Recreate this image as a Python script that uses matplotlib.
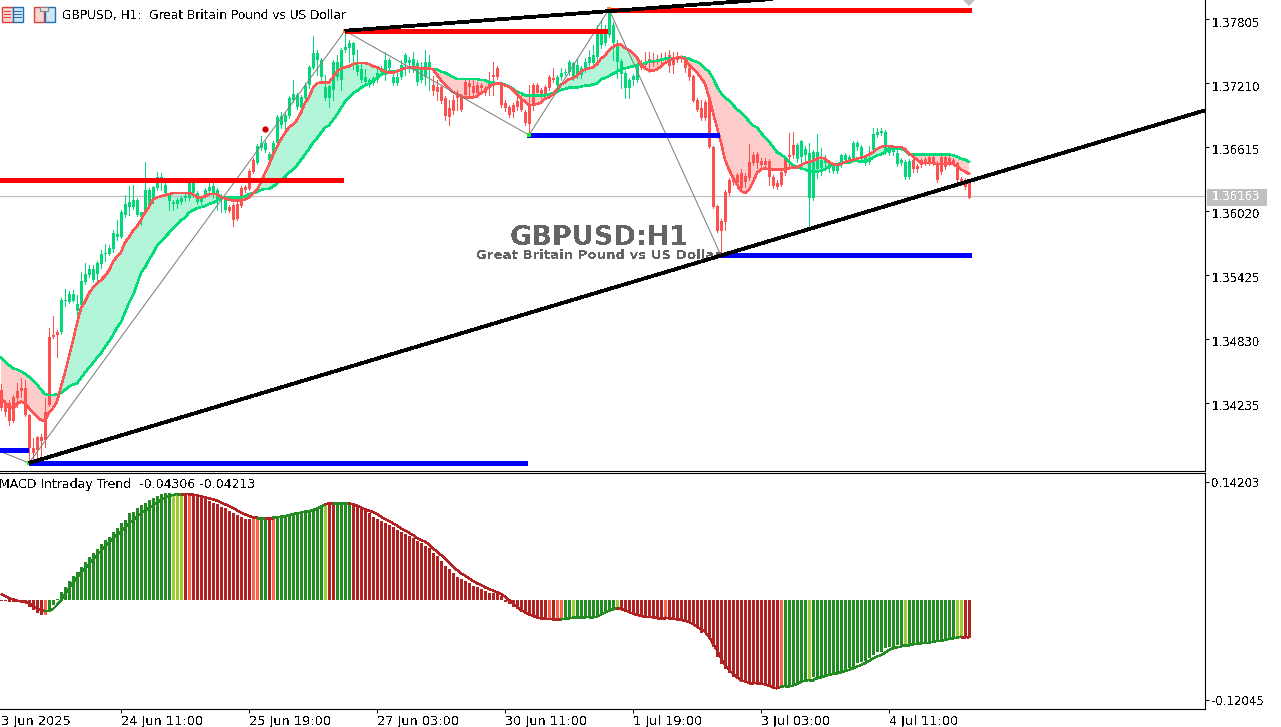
import matplotlib
matplotlib.use('Agg')
import matplotlib.pyplot as plt
import numpy as np
from matplotlib.collections import LineCollection
from matplotlib.patches import Rectangle
from matplotlib.transforms import Affine2D, ScaledTranslation

plt.rcParams['font.family'] = ['DejaVu Sans']
plt.rcParams['text.antialiased'] = False

# all candle and MA values are pips above 1.33000
BASE = 1.33

body_top = [
    136,124,124,129,135,138,138,113,82,92,
    92,115,185,187,190,220,220,225,225,216,
    237,244,248,248,254,262,263,268,282,281,
    301,309,311,313,313,301,322,322,325,334,
    334,327,317,311,313,314,316,328,328,319,
    314,322,325,326,322,316,314,306,308,309,
    324,325,340,350,363,366,366,355,366,390,
    391,392,407,411,410,408,420,436,449,449,
    443,418,419,441,441,452,455,459,459,438,
    434,427,424,426,431,435,443,443,427,427,
    438,447,443,444,440,435,441,441,420,418,
    418,407,398,406,409,410,422,421,419,420,
    420,417,422,429,435,420,403,399,401,405,
    406,394,402,420,420,415,418,427,426,427,
    431,432,441,440,438,435,441,446,447,468,
    468,468,487,475,457,442,431,424,428,438,
    440,440,444,443,444,445,446,447,445,446,
    446,444,435,428,406,398,404,408,362,307,
    293,320,331,334,336,338,335,348,354,355,
    349,349,349,334,328,339,351,354,364,364,
    367,360,356,357,357,350,352,347,345,344,
    354,354,353,366,366,362,353,352,374,376,
    377,376,362,362,356,350,348,349,350,344,
    350,351,353,353,347,353,353,352,350,347,
    332,331,328]
body_bottom = [
    119,115,107,107,128,135,113,82,77,80,
    88,89,122,185,187,190,219,218,219,209,
    215,236,243,238,244,253,262,262,267,278,
    278,299,306,306,299,297,301,308,314,324,
    329,319,312,309,309,311,314,314,319,311,
    311,315,321,317,313,313,303,302,294,295,
    307,322,323,339,347,361,359,350,355,366,
    382,385,391,406,399,398,407,420,435,443,
    427,407,407,415,427,424,452,454,447,432,
    424,422,420,421,424,432,429,435,421,421,
    427,440,440,436,422,424,427,434,414,413,
    405,391,390,395,407,396,410,418,412,412,
    417,412,417,427,427,401,398,392,394,399,
    396,384,383,402,412,410,410,417,424,420,
    427,431,432,427,429,429,435,440,440,446,
    457,459,466,459,441,430,417,417,424,424,
    435,438,440,440,441,442,443,437,438,443,
    444,435,427,405,396,389,389,362,306,284,
    284,292,319,329,328,324,329,333,347,347,
    345,345,334,326,325,327,338,353,354,351,
    353,354,314,314,341,342,347,342,340,340,
    345,350,350,352,362,351,347,348,359,373,
    375,357,356,357,346,347,334,334,341,341,
    345,347,347,347,331,339,343,347,347,331,
    328,325,314]
high = [
    141,127,127,131,142,147,145,114,91,93,
    95,128,194,205,192,221,230,228,229,224,
    246,254,252,252,256,266,272,271,285,294,
    303,317,326,327,314,301,348,324,326,339,
    338,328,319,313,314,316,318,329,328,321,
    316,324,328,328,324,318,316,308,310,311,
    326,327,341,352,365,372,367,357,367,392,
    394,394,409,424,412,410,421,438,465,452,
    445,429,420,443,447,454,469,461,460,452,
    441,434,426,428,434,437,450,445,432,434,
    443,449,446,450,443,441,452,447,428,424,
    420,409,406,410,415,411,424,424,424,422,
    421,419,432,441,437,421,406,401,403,415,
    410,396,420,421,421,417,420,429,435,429,
    435,434,443,441,445,437,445,452,457,475,
    480,475,490,478,461,444,433,426,430,440,
    443,450,450,449,447,449,450,452,450,450,
    447,446,436,429,407,406,406,410,363,308,
    295,322,333,336,338,341,338,365,357,357,
    352,352,351,336,331,341,353,375,376,366,
    368,363,366,359,374,361,354,349,347,347,
    355,356,354,367,367,364,354,363,380,380,
    380,378,364,364,359,352,350,351,352,346,
    352,353,354,354,349,354,354,354,352,348,
    334,333,328]
low = [
    117,112,103,106,120,129,112,69,69,70,
    71,83,121,184,167,188,214,217,218,204,
    214,234,241,236,234,249,256,261,264,275,
    277,297,299,304,298,289,300,305,310,322,
    322,317,303,303,305,309,312,313,315,309,
    309,314,318,314,303,301,301,301,288,294,
    306,320,322,338,346,359,357,346,353,365,
    380,378,389,404,397,396,406,417,434,429,
    424,406,399,406,424,415,450,441,434,429,
    422,420,418,420,422,429,424,432,420,420,
    425,429,432,432,420,422,420,415,410,406,
    403,387,382,393,396,395,408,410,410,408,
    413,410,410,410,425,399,395,390,390,396,
    395,382,375,396,409,407,408,415,422,417,
    424,429,429,424,426,426,432,437,438,443,
    454,457,464,443,426,417,407,407,420,422,
    434,435,432,437,439,438,441,432,431,441,
    441,432,424,404,395,387,387,361,305,283,
    261,285,317,327,324,322,325,331,345,342,
    343,341,327,324,323,326,336,341,352,348,
    345,350,287,313,333,336,344,339,338,338,
    343,347,348,350,359,349,345,346,357,371,
    373,355,354,354,344,345,332,332,339,339,
    343,345,345,345,329,337,341,345,345,329,
    327,323,314]
candle_runs = [('r',15),('g',42),('r',7),('g',44),('r',31),('g',21),('r',39),('g',29),('r',15)]

fast_ma = [
    128,124,120,119,123,125,124,119,115,111,
    108,107,115,119,125,139,152,167,182,198,
    212,218,226,231,235,238,242,247,255,260,
    264,273,278,284,288,294,301,306,313,315,
    316,317,318,319,319,319,319,319,318,315,
    315,316,318,318,318,315,314,313,312,312,
    312,313,315,319,322,329,338,345,355,362,
    369,375,380,383,387,394,403,408,417,421,
    422,422,422,427,432,435,436,437,439,440,
    440,440,439,437,436,434,432,431,431,432,
    434,435,436,436,436,435,435,435,434,429,
    424,420,416,413,411,409,408,408,408,409,
    412,414,418,420,421,421,419,418,415,411,
    407,404,401,401,402,403,407,408,411,415,
    420,422,425,426,428,432,434,435,436,439,
    444,447,452,455,457,457,454,452,449,445,
    438,435,433,433,434,437,440,442,444,445,
    445,444,438,435,431,426,421,408,394,380,
    366,350,341,333,327,321,319,322,329,338,
    341,342,341,341,341,341,341,342,343,343,
    345,347,348,349,351,352,351,348,346,345,
    346,348,349,350,351,352,353,355,357,360,
    362,363,363,362,362,362,360,356,353,350,
    347,347,347,347,346,346,346,347,346,344,
    341,339,337]
slow_ma = [
    166,162,159,156,155,153,151,148,145,141,
    136,132,131,131,132,133,136,139,141,142,
    147,152,157,161,166,170,176,181,187,194,
    199,208,217,224,234,245,250,257,263,270,
    274,278,282,286,290,294,296,301,303,305,
    306,307,309,310,312,314,315,315,315,315,
    315,316,318,319,320,322,323,323,325,328,
    331,334,338,341,345,350,355,360,366,370,
    375,380,382,387,392,398,404,408,412,414,
    417,419,421,423,426,429,431,432,432,432,
    434,435,436,435,435,435,435,435,434,434,
    432,431,429,427,425,425,425,425,425,425,
    424,424,422,422,421,421,420,418,416,413,
    412,410,410,410,410,410,410,411,412,413,
    415,416,417,417,417,418,419,419,420,421,
    425,426,428,430,432,434,435,436,437,438,
    438,440,441,442,442,443,444,444,444,445,
    445,445,444,442,441,439,435,432,426,418,
    412,408,405,401,397,394,390,386,382,380,
    375,371,367,362,357,355,352,348,345,343,
    342,341,339,339,339,340,341,344,346,346,
    347,347,347,349,349,348,349,350,352,354,
    355,357,360,361,360,360,359,355,355,355,
    355,355,355,355,355,355,355,355,354,353,
    351,350,348]

# MACD pane, units of 0.0001
macd_hist = [
    -8,-12,-28,-28,-20,-16,-20,-80,-120,-152,
    -180,-180,-120,-60,12,100,160,228,288,340,
    400,460,520,560,612,672,720,760,820,860,
    920,960,1040,1060,1100,1140,1168,1200,1220,1248,
    1272,1280,1280,1272,1272,1268,1272,1264,1248,1240,
    1224,1208,1192,1168,1148,1120,1100,1072,1048,1020,
    996,976,968,968,968,976,976,968,976,984,
    992,1008,1016,1032,1040,1052,1060,1072,1080,1100,
    1128,1160,1160,1152,1152,1152,1152,1152,1140,1120,
    1100,1072,1040,1000,972,952,920,900,872,840,
    820,792,772,740,712,680,648,620,568,528,
    472,408,368,328,280,256,228,200,172,152,
    128,104,88,80,72,48,-24,-52,-80,-108,
    -140,-168,-192,-208,-220,-228,-232,-240,-240,-240,
    -240,-220,-212,-200,-208,-208,-208,-200,-192,-180,
    -160,-140,-120,-112,-100,-112,-140,-160,-172,-188,
    -200,-208,-212,-220,-220,-220,-220,-228,-228,-232,
    -244,-252,-280,-300,-340,-392,-400,-460,-568,-688,
    -768,-832,-880,-920,-952,-980,-1000,-1008,-1012,-1012,
    -1012,-1020,-1032,-1040,-1060,-1040,-1028,-1028,-1020,-1000,
    -980,-960,-952,-928,-920,-912,-900,-888,-880,-868,
    -852,-840,-820,-800,-752,-740,-728,-700,-660,-620,
    -620,-580,-560,-560,-540,-540,-528,-528,-528,-520,
    -520,-512,-500,-500,-492,-488,-480,-468,-460,-440,
    -428,-460,-460]
macd_signal = [
    72,48,20,8,-8,-16,-24,-40,-72,-96,
    -120,-136,-132,-108,-60,-8,72,140,208,272,
    328,380,432,488,540,588,640,688,736,780,
    824,872,912,960,1000,1040,1072,1108,1136,1168,
    1200,1224,1248,1260,1272,1272,1272,1268,1264,1256,
    1244,1232,1220,1208,1192,1172,1148,1128,1104,1076,
    1048,1028,1008,992,988,988,988,988,988,992,
    1000,1008,1020,1032,1040,1048,1060,1068,1080,1096,
    1120,1148,1160,1160,1160,1160,1160,1160,1148,1132,
    1108,1088,1072,1056,1032,1000,972,948,920,892,
    860,832,808,780,744,720,700,668,620,580,
    540,500,448,400,360,320,292,260,228,200,
    180,152,132,112,92,72,40,0,-40,-80,
    -120,-148,-172,-192,-208,-220,-224,-228,-232,-232,
    -232,-228,-220,-212,-208,-208,-208,-204,-204,-200,
    -172,-148,-128,-112,-100,-108,-124,-144,-164,-180,
    -192,-200,-204,-208,-212,-212,-212,-220,-224,-232,
    -240,-248,-264,-288,-320,-352,-380,-440,-520,-600,
    -700,-780,-840,-888,-928,-960,-980,-992,-992,-1000,
    -1000,-1012,-1028,-1048,-1060,-1040,-1032,-1032,-1028,-1008,
    -980,-968,-960,-960,-940,-928,-912,-900,-888,-880,
    -868,-852,-840,-820,-800,-780,-760,-732,-700,-680,
    -660,-632,-600,-580,-568,-560,-540,-540,-532,-528,
    -520,-516,-512,-500,-492,-488,-480,-468,-460,-452,
    -440,-440,-452]
hist_runs = [('r',5),('o',1),('r',5),('o',1),('g',31),('y',3),('r',1),('o',1),('r',15),('o',2),
             ('g',2),('r',1),('o',1),('g',12),('y',1),('r',2),('g',4),('r',49),('o',1),('r',1),
             ('o',2),('g',2),('y',1),('g',10),('y',1),('r',11),('o',1),('r',28),('o',1),('g',6),
             ('y',1),('g',23),('y',1),('g',12),('y',2),('r',2)]

# (first bar, last bar, pips, colour)
levels = [(-1, 85.5, 331, '#ff0000'), (86, 151.5, 470, '#ff0000'), (151.5, 242.5, 489, '#ff0000'),
          (-1, 6.75, 80, '#0000ff'), (7, 131.5, 68, '#0000ff'), (131.5, 179.5, 373, '#0000ff'),
          (179.75, 242.5, 261, '#0000ff')]
zigzag_bars = [-1, 7, 86, 132, 152, 180]
zigzag_pips = [80, 68, 470, 373, 490, 261]
price_ticks = [1.37805, 1.37210, 1.36615, 1.36020, 1.35425, 1.34830, 1.34235]
macd_ticks = [0.14203, -0.12045]
date_bars = [-2, 30, 62, 94, 126, 158, 190, 222]
date_labels = ['23 Jun 2025', '24 Jun 11:00', '25 Jun 19:00', '27 Jun 03:00',
               '30 Jun 11:00', '1 Jul 19:00', '3 Jul 03:00', '4 Jul 11:00']
bid = 1.36163

W, H = 1281, 727
CANDLE = {'g': '#00d977', 'r': '#ff5050'}
HIST = {'g': '#228b22', 'y': '#9acd32', 'r': '#b22222', 'o': '#ff6347'}


def expand(runs):
    return [c for c, n in runs for _ in range(n)]


def to_price(pips):
    return BASE + np.asarray(pips, dtype=float) / 1e4


bars = np.arange(len(body_top))
xlim = (-0.25, 300.875)

fig = plt.figure(figsize=(W / 100, H / 100), dpi=100, facecolor='white')
ax = fig.add_axes([0, (H - 470.5) / H, 1204.5 / W, 470.5 / H])
ax2 = fig.add_axes([0, (H - 708.5) / H, 1204.5 / W, 236 / H])

# price pane
ax.set_xlim(xlim)
ax.set_ylim(1.33610, 1.37986)
fast, slow = to_price(fast_ma), to_price(slow_ma)
ax.fill_between(bars, fast, slow, where=fast >= slow, interpolate=True, color='#b2f5d8', lw=0, zorder=1)
ax.fill_between(bars, fast, slow, where=fast <= slow, interpolate=True, color='#ffcccc', lw=0, zorder=1)
ax.axhline(bid, color='#c0c0c0', lw=0.9, zorder=1.5)

colors = [CANDLE[c] for c in expand(candle_runs)]
ax.vlines(bars, to_price(low), to_price(high), colors=colors, lw=0.72, antialiased=False, zorder=2)
ax.bar(bars, to_price(body_top) - to_price(body_bottom), bottom=to_price(body_bottom), width=0.75,
       color=colors, antialiased=False, zorder=2.1)

ax.plot(bars, slow, color='#00dc78', lw=1.1, antialiased=False, zorder=3)
ax.plot(bars, fast, color='#ff5555', lw=1.1, antialiased=False, zorder=3.1)

ax.plot(zigzag_bars, to_price(zigzag_pips), color='#808080', lw=0.75, zorder=3.5)
for b0, b1, pips, col in levels:
    ax.plot([b0, b1], to_price([pips, pips]), color=col, lw=3.6, solid_capstyle='butt',
            antialiased=False, zorder=4)

low_marks, high_marks = [1, 3, 5], [2, 4]
ax.plot([zigzag_bars[i] for i in low_marks], to_price([zigzag_pips[i] for i in low_marks]),
        's', color='#00ff00', ms=3, mew=0, zorder=4.5)
ax.plot([zigzag_bars[i] for i in high_marks], to_price([zigzag_pips[i] for i in high_marks]),
        's', color='#ff8c00', ms=3, mew=0, zorder=4.5)
ax.plot([66], to_price([379]), 'o', color='#cc0000', ms=4.5, mew=0, zorder=4.5)
ax.plot([242], [1.37986], 'D', color='#c0c0c0', ms=6.6, mew=0, zorder=4.5)

ax.text(149.5, to_price(277), 'GBPUSD:H1', ha='center', va='center', fontsize=19.5,
        fontweight='bold', color='#646464', zorder=4.6)
ax.text(149.5, to_price(261), 'Great Britain Pound vs US Dollar', ha='center', va='center',
        fontsize=9.5, fontweight='bold', color='#646464', zorder=4.6)

# trend lines run on as rays from their two anchor points
for (b0, p0), (b1, p1) in [((7, 68), (180, 261)), ((86, 470), (162, 491))]:
    end = xlim[1]
    ax.plot([b0, end], to_price([p0, p0 + (p1 - p0) * (end - b0) / (b1 - b0)]), color='black',
            lw=2.0, solid_capstyle='butt', antialiased=False, zorder=5)

ax.yaxis.tick_right()
ax.set_yticks(price_ticks)
ax.set_yticklabels([f'{p:.5f}' for p in price_ticks])
ax.tick_params(axis='y', length=3, width=0.75, pad=2, labelsize=8.5)
ax.set_xticks([])
for s in ('top', 'left'):
    ax.spines[s].set_visible(False)
# labels sit a little under their tick marks in the terminal
nudge = ScaledTranslation(0, -1.5 / 72, fig.dpi_scale_trans)
for lbl in ax.get_yticklabels():
    lbl.set_transform(lbl.get_transform() + nudge)

ax.annotate(f'{bid:.5f}', (1, bid), xycoords=('axes fraction', 'data'), xytext=(5.5, 0),
            textcoords='offset points', va='center', ha='left', fontsize=8.5, color='white',
            annotation_clip=False)

# MACD pane
ax2.set_xlim(xlim)
ax2.set_ylim(-0.1302, 0.153)
hist_colors = [HIST[c] for c in expand(hist_runs)]
ax2.bar(bars, np.array(macd_hist) / 1e4, width=0.75, color=hist_colors, antialiased=False, zorder=2)

sig = np.array(macd_signal) / 1e4
pts = np.column_stack([bars, sig])
segs = np.stack([pts[:-1], pts[1:]], axis=1)
seg_colors = [HIST['g'] if c in 'gy' else HIST['r'] for c in expand(hist_runs)[1:]]
ax2.add_collection(LineCollection(segs, colors=seg_colors, linewidths=1.0, antialiaseds=False, zorder=3))

ax2.yaxis.tick_right()
ax2.set_yticks(macd_ticks)
ax2.set_yticklabels([f'{v:.5f}' for v in macd_ticks])
ax2.tick_params(axis='y', length=3, width=0.75, pad=2, labelsize=8.5)
ax2.set_xticks(date_bars[1:])
ax2.set_xticklabels([])
ax2.tick_params(axis='x', length=3, width=0.75)
ax2.spines['left'].set_visible(False)
for b, lab in zip(date_bars, date_labels):
    ax2.annotate(lab, (b, 0), xycoords=('data', 'axes fraction'), xytext=(0, -4.5),
                 textcoords='offset points', va='top', ha='left', fontsize=9.3, annotation_clip=False)

fig.text(-1 / W, 1 - 484.5 / H, 'MACD Intraday Trend  -0.04306 -0.04213', fontsize=9, va='center')
fig.text(62 / W, 1 - 15 / H, 'GBPUSD, H1:  Great Britain Pound vs US Dollar', fontsize=8.75, va='center')

# toolbar icons in the corner and the bid price box, all fixed in pixels
px = Affine2D().scale(1, -1).translate(0, H)
for x0, col, fc in [(2, '#d9423a', '#fbd5d0'), (12.5, '#1f6fb2', '#cfe6f7')]:
    fig.add_artist(Rectangle((x0, 6.5), 10.5, 15, fc=fc, ec=col, lw=1, transform=px))
    for yy in (11, 14, 17):
        fig.add_artist(Rectangle((x0 + 1.5, yy), 7.5, 1, fc=col, ec='none', transform=px))
for x0, col, fc in [(34, '#d9423a', '#fbd5d0'), (45, '#1f6fb2', '#cfe6f7')]:
    fig.add_artist(Rectangle((x0, 7), 10, 14.5, fc=fc, ec=col, lw=1, transform=px))
fig.add_artist(Rectangle((40, 6.5), 8, 4, fc='#e4e4e4', ec='#888888', lw=0.8, transform=px))
fig.add_artist(Rectangle((1207, 189), 60, 17, fc='#c0c0c0', ec='none', transform=px, zorder=-1))

fig.savefig('out.png', dpi=100)
